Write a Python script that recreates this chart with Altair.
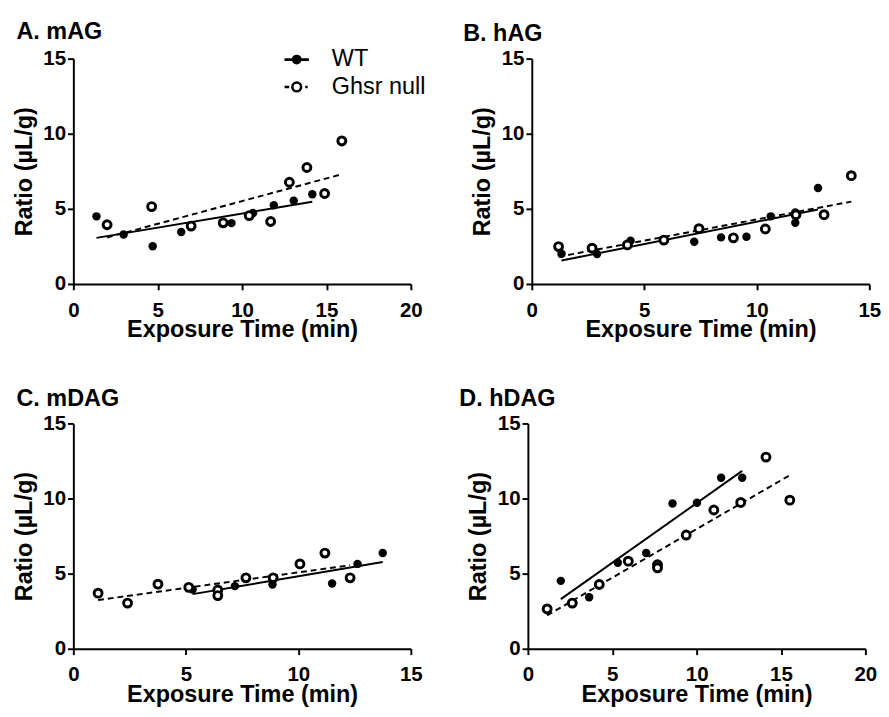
import altair as alt
import pandas as pd

WT = "WT"
KO = "Ghsr null"

# Panel A: mAG
a_wt_x = [1.37, 2.98, 4.70, 6.39, 9.37, 10.65, 11.88, 13.06, 14.16]
a_wt_y = [4.50, 3.29, 2.51, 3.46, 4.05, 4.72, 5.24, 5.54, 5.97]
a_ko_x = [2.00, 4.64, 6.98, 8.88, 10.42, 11.69, 12.80, 13.84, 14.89, 15.91]
a_ko_y = [3.94, 5.15, 3.85, 4.07, 4.55, 4.16, 6.77, 7.75, 6.02, 9.52]

# Panel B: hAG
b_wt_x = [1.32, 2.90, 4.39, 7.22, 8.41, 9.54, 10.62, 11.71, 11.71, 12.72]
b_wt_y = [2.01, 1.99, 2.88, 2.81, 3.10, 3.14, 4.50, 4.07, 4.76, 6.39]
b_ko_x = [1.19, 2.68, 4.25, 5.87, 7.43, 8.96, 10.38, 11.74, 12.99, 14.20]
b_ko_y = [2.49, 2.38, 2.60, 2.92, 3.68, 3.07, 3.66, 4.61, 4.61, 7.21]

# Panel C: mDAG
c_wt_x = [5.30, 7.18, 8.85, 11.50, 12.63, 13.75]
c_wt_y = [3.95, 4.17, 4.28, 4.35, 5.65, 6.37]
c_ko_x = [1.10, 2.41, 3.76, 5.13, 6.42, 6.42, 7.67, 8.88, 10.07, 11.18, 12.30]
c_ko_y = [3.70, 3.04, 4.30, 4.09, 3.91, 3.54, 4.72, 4.72, 5.65, 6.37, 4.72]

# Panel D: hDAG
d_wt_x = [1.95, 3.63, 5.33, 7.01, 8.57, 10.02, 11.45, 12.70]
d_wt_y = [4.52, 3.43, 5.72, 6.37, 9.67, 9.72, 11.39, 11.39]
d_ko_x = [1.14, 2.63, 4.23, 5.95, 7.68, 7.68, 9.38, 11.02, 12.61, 14.11, 15.52]
d_ko_y = [2.65, 3.04, 4.28, 5.83, 5.59, 5.39, 7.57, 9.24, 9.74, 12.76, 9.89]

x_ticks_20 = [0, 5, 10, 15, 20]
x_ticks_15 = [0, 5, 10, 15]
y_ticks = [0, 5, 10, 15]

FONT = "Liberation Sans"

# legend symbols (stroke only): line + solid dot (concentric rings) / dashed line + ring
P_WT = ("M-1,0H1"
        "M0.3,0A0.3,0.3,0,1,1,-0.3,0A0.3,0.3,0,1,1,0.3,0"
        "M0.18,0A0.18,0.18,0,1,1,-0.18,0A0.18,0.18,0,1,1,0.18,0"
        "M0.07,0A0.07,0.07,0,1,1,-0.07,0A0.07,0.07,0,1,1,0.07,0")
P_KO = ("M-1,0H-0.62M0.7,0H0.9"
        "M0.36,0A0.36,0.36,0,1,1,-0.36,0A0.36,0.36,0,1,1,0.36,0")


def make_df(wx, wy, kx, ky):
    rows = [{"x": x, "y": y, "g": WT} for x, y in zip(wx, wy)]
    rows += [{"x": x, "y": y, "g": KO} for x, y in zip(kx, ky)]
    return pd.DataFrame(rows)


def panel(df, xmax, xticks, title, tdx, legend=False):
    base = alt.Chart(df)
    xenc = alt.X("x:Q", scale=alt.Scale(domain=[0, xmax], nice=False),
                 axis=alt.Axis(values=xticks, title="Exposure Time (min)"))
    yenc = alt.Y("y:Q", scale=alt.Scale(domain=[0, 15], nice=False),
                 axis=alt.Axis(values=y_ticks, title="Ratio (µL/g)"))
    wt_base = base.transform_filter(alt.datum.g == WT)
    ko_base = base.transform_filter(alt.datum.g == KO)
    wt_line = wt_base.transform_regression("x", "y").mark_line(
        color="black", strokeWidth=2
    ).encode(x=xenc, y=yenc)
    ko_line = ko_base.transform_regression("x", "y").mark_line(
        color="black", strokeWidth=2, strokeDash=[6, 4]
    ).encode(x=xenc, y=yenc)
    wt = wt_base.mark_point(
        filled=True, color="black", size=75, opacity=1
    ).encode(x=xenc, y=yenc)
    ko = ko_base.mark_point(
        fill="white", stroke="black", strokeWidth=3, size=66, opacity=1
    ).encode(x=xenc, y=yenc)
    layers = [wt_line, ko_line, wt, ko]
    if legend:
        leg = alt.Legend(
            orient="none", legendX=215, legendY=-13, title=None,
            symbolSize=625, symbolStrokeWidth=2.6,
            labelFont=FONT, labelFontSize=24, labelColor="black",
            labelOffset=22, rowPadding=2, padding=0,
        )
        dummy = base.mark_point(
            color="black", strokeWidth=2.6, size=0, opacity=1
        ).encode(
            x=xenc, y=yenc,
            shape=alt.Shape("g:N", scale=alt.Scale(domain=[WT, KO], range=[P_WT, P_KO]), legend=leg),
        )
        layers.append(dummy)
    return alt.layer(*layers).properties(
        width=346, height=231,
        title=alt.Title(title, anchor="start", font=FONT, fontSize=24, fontWeight="bold",
                        color="black", dx=tdx, offset=2),
    )


pA = panel(make_df(a_wt_x, a_wt_y, a_ko_x, a_ko_y), 20, x_ticks_20, "A. mAG", 4, legend=True)
pB = panel(make_df(b_wt_x, b_wt_y, b_ko_x, b_ko_y), 15, x_ticks_15, "B. hAG", -8)
pC = panel(make_df(c_wt_x, c_wt_y, c_ko_x, c_ko_y), 15, x_ticks_15, "C. mDAG", 4)
pD = panel(make_df(d_wt_x, d_wt_y, d_ko_x, d_ko_y), 20, x_ticks_20, "D. hDAG", -8)

chart = alt.vconcat(
    alt.hconcat(pA, pB, spacing=37).resolve_scale(shape="independent"),
    alt.hconcat(pC, pD, spacing=37),
    spacing=47,
).resolve_scale(shape="independent").properties(
    padding={"left": 4, "top": 4, "right": 0, "bottom": 0},
    background="white",
).configure_view(stroke=None).configure_axis(
    grid=False,
    domainColor="black", domainWidth=2,
    tickColor="black", tickWidth=2, tickSize=6,
    labelFont=FONT, labelFontSize=21, labelFontWeight="bold", labelColor="black",
    labelFlush=False,
    titleFont=FONT, titleFontSize=24, titleFontWeight="bold", titleColor="black",
).configure_axisX(labelPadding=10, titlePadding=-2).configure_axisY(labelPadding=2, titlePadding=7)

chart.save("out.html", embed_options={"renderer": "svg", "actions": False})
